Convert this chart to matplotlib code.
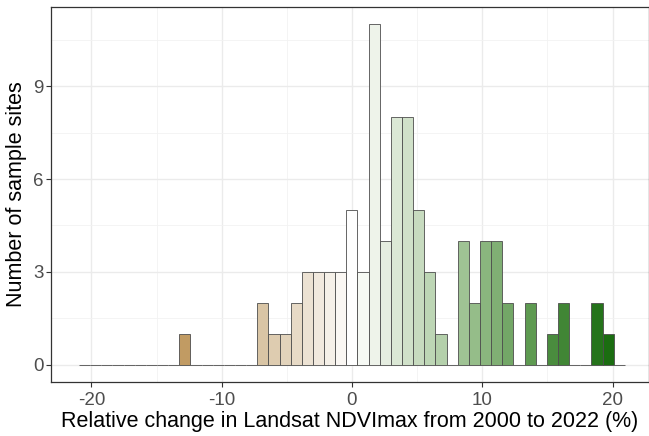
import numpy as np
import matplotlib
matplotlib.use('Agg')
import matplotlib.pyplot as plt
from matplotlib.colors import LinearSegmentedColormap, Normalize

# histogram of relative NDVImax change, 49 bins centred on 0
bin_start = -20.95
bin_width = 0.855
counts = [0, 0, 0, 0, 0, 0, 0, 0, 0, 1,
          0, 0, 0, 0, 0, 0, 2, 1, 1, 2,
          3, 3, 3, 3, 5, 3, 11, 4, 8, 8,
          5, 3, 1, 0, 4, 2, 4, 4, 2, 0,
          2, 0, 1, 2, 0, 0, 2, 1, 0]
x_ticks = [-20, -10, 0, 10, 20]
y_ticks = [0, 3, 6, 9]

edges = bin_start + bin_width * np.arange(len(counts) + 1)
centres = (edges[:-1] + edges[1:]) / 2

# brown -> white -> green fill, like scale_fill_gradient2
cmap = LinearSegmentedColormap.from_list('ndvi', [
    (0.0, '#A47634'), (0.194, '#C19B63'), (0.333, '#D8C3A3'),
    (0.5, '#FFFFFF'), (0.541, '#EEF3EA'), (0.704, '#A0C495'),
    (0.826, '#5F9A52'), (0.969, '#1C6D12'), (1.0, '#166A0C')])
norm = Normalize(vmin=edges[0], vmax=edges[-1])

plt.rcParams['font.family'] = ['Liberation Sans', 'DejaVu Sans']

fig = plt.figure(figsize=(6.49, 4.36), dpi=100)
ax = fig.add_axes([51 / 649, 54 / 436, 598 / 649, 375 / 436])

ax.bar(centres, counts, width=bin_width, color=cmap(norm(centres)),
       edgecolor='#4D4D4D', linewidth=0.6, zorder=3)

ax.set_xlim(-23.1, 22.8)
ax.set_ylim(-0.55, 11.55)
ax.set_xticks(x_ticks)
ax.set_yticks(y_ticks)
ax.set_xticks([-15, -5, 5, 15], minor=True)
ax.set_yticks([1.5, 4.5, 7.5, 10.5], minor=True)
ax.grid(which='major', color='#EBEBEB', linewidth=1.0, zorder=0)
ax.grid(which='minor', color='#F2F2F2', linewidth=0.6, zorder=0)
ax.tick_params(which='major', length=3.5, width=0.8, color='#333333',
               labelsize=13.5, labelcolor='#4D4D4D')
ax.tick_params(axis='x', pad=4)
ax.tick_params(axis='y', pad=2)
ax.tick_params(which='minor', length=0)
ax.set_xticklabels([str(t) for t in x_ticks])
for s in ax.spines.values():
    s.set_color('#333333')
    s.set_linewidth(0.9)

ax.set_xlabel('Relative change in Landsat NDVImax from 2000 to 2022 (%)',
              fontsize=15.5, labelpad=1)
ax.set_ylabel('Number of sample sites', fontsize=15.5, labelpad=4)

fig.savefig('out.png', dpi=100, facecolor='white')
